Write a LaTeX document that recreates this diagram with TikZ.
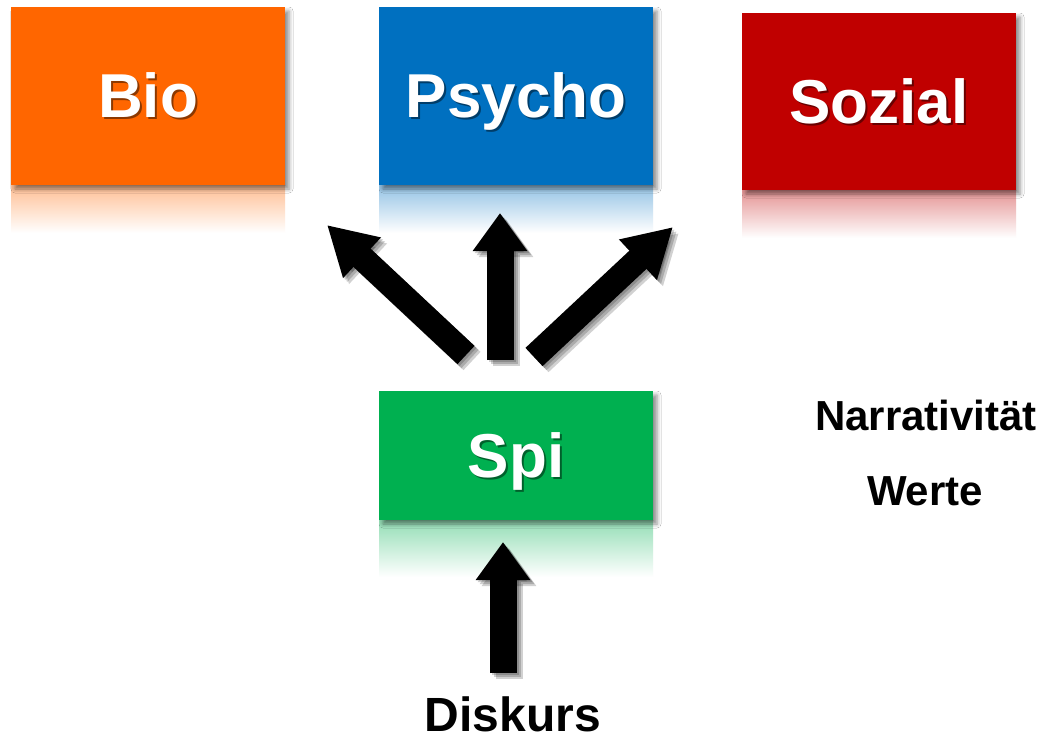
\documentclass[tikz,border=0pt]{standalone}
\usepackage{fontspec}
\setmainfont{Liberation Sans}
\usetikzlibrary{arrows.meta,shadows.blur}
\definecolor{bioC}{HTML}{FF6600}
\definecolor{psyC}{HTML}{0070C0}
\definecolor{sozC}{HTML}{C00000}
\definecolor{spiC}{HTML}{00B050}
\newcommand\drawcolbox[7]{% name, x, y, height, color, text, reflection height
  \shade[top color=#5!42, bottom color=white]
    (#2-137, #3+#4/2) rectangle (#2+137, #3+#4/2+#7);
  \node[box, minimum height=#4pt, fill=#5,
    path picture={\node[txtsh] at ([xshift=2pt,yshift=-2pt]path picture bounding box.center) {#6};}]
    (#1) at (#2,#3) {#6};
}
\begin{document}
\begin{tikzpicture}[x=1pt,y=-1pt,
  bigfont/.style={font=\bfseries\fontsize{62}{62}\selectfont, text height=44pt, text depth=0pt},
  box/.style={rectangle, inner sep=0pt, minimum width=274pt, text=white, bigfont,
    blur shadow={shadow xshift=4pt, shadow yshift=-4pt, shadow blur radius=4pt, shadow opacity=45}},
  txtsh/.style={text=black, opacity=0.45, inner sep=0pt, bigfont},
  label/.style={inner sep=0pt, text=black, font=\bfseries\fontsize{42}{42}\selectfont, text height=30pt, text depth=0pt},
  diagarr/.style={line width=25pt, -{Triangle[width=52pt,length=48pt]}},
  vertarr/.style={line width=27pt, -{Triangle[width=52pt,length=38pt]}},
  arrsh/.style={draw=black, opacity=0.18}
]
\useasboundingbox[fill=white] (0,0) rectangle (1041,741);

% boxes with reflections
\drawcolbox{bio}{148}{96}{178}{bioC}{Bio}{48}
\drawcolbox{psy}{516}{96}{178}{psyC}{Psycho}{48}
\drawcolbox{soz}{879}{101.5}{177}{sozC}{Sozial}{48}
\drawcolbox{spi}{516}{455.5}{129}{spiC}{Spi}{57}

% arrow end points
\coordinate (lS) at (466,355); \coordinate (lT) at (327,225);
\coordinate (mS) at (500,360); \coordinate (mT) at (500,213);
\coordinate (rS) at (534,357); \coordinate (rT) at (673,227);
\coordinate (bS) at (503,673); \coordinate (bT) at (503,542);

% arrow shadows
\foreach \d in {2,4,6}{
  \draw[diagarr, arrsh, transform canvas={xshift=\d pt, yshift=-\d pt}] (lS) -- (lT);
  \draw[vertarr, arrsh, transform canvas={xshift=\d pt, yshift=-\d pt}] (mS) -- (mT);
  \draw[diagarr, arrsh, transform canvas={xshift=\d pt, yshift=-\d pt}] (rS) -- (rT);
  \draw[vertarr, arrsh, transform canvas={xshift=\d pt, yshift=-\d pt}] (bS) -- (bT);
}
% arrows
\draw[diagarr] (lS) -- (lT);
\draw[vertarr] (mS) -- (mT);
\draw[diagarr] (rS) -- (rT);
\draw[vertarr] (bS) -- (bT);

% labels
\node[label] (narr) at (926,415) {Narrativität};
\node[label] (werte) at (925,490) {Werte};
\node[label, font=\bfseries\fontsize{48}{48}\selectfont, text height=34pt] (disk) at (513,714) {Diskurs};
\end{tikzpicture}
\end{document}
